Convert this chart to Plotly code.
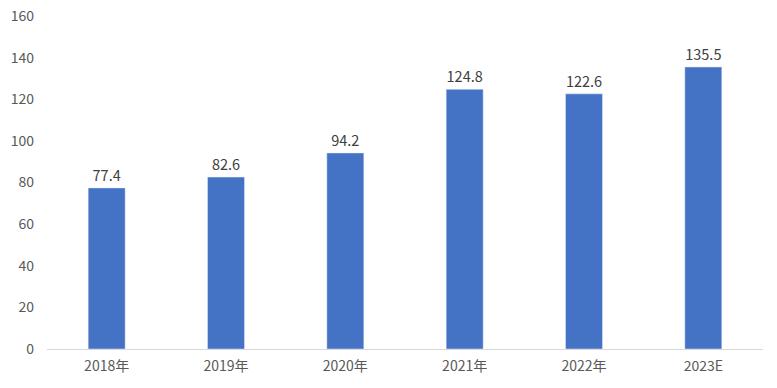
import plotly.graph_objects as go

categories = ["2018年", "2019年", "2020年", "2021年", "2022年", "2023E"]
values = [77.4, 82.6, 94.2, 124.8, 122.6, 135.5]
y_ticks = [0, 20, 40, 60, 80, 100, 120, 140, 160]

fig = go.Figure(go.Bar(
    x=categories, y=values,
    marker_color="#4472C4",
    text=[f"{v:.1f}" for v in values],
    textposition="outside",
    textfont=dict(size=14.5, color="#404040"),
    cliponaxis=False,
))
fig.update_layout(
    width=777, height=388,
    margin=dict(l=47, r=14, t=16, b=39, autoexpand=False),
    paper_bgcolor="white", plot_bgcolor="white",
    font=dict(family="Noto Sans CJK SC, sans-serif", size=14, color="#595959"),
    bargap=0.69,
    showlegend=False,
)
fig.update_xaxes(showline=True, linecolor="#d9d9d9", linewidth=1, ticks="", showgrid=False,
                 tickfont=dict(size=14, color="#595959"), ticklabelstandoff=4)
fig.update_yaxes(range=[0, 160], tickvals=y_ticks, showgrid=False, zeroline=False,
                 showline=False, ticks="", tickfont=dict(size=14, color="#595959"), ticklabelstandoff=12)
fig.write_html("out.html", config={"displayModeBar": False},
               post_script="document.body.style.margin='0';")
